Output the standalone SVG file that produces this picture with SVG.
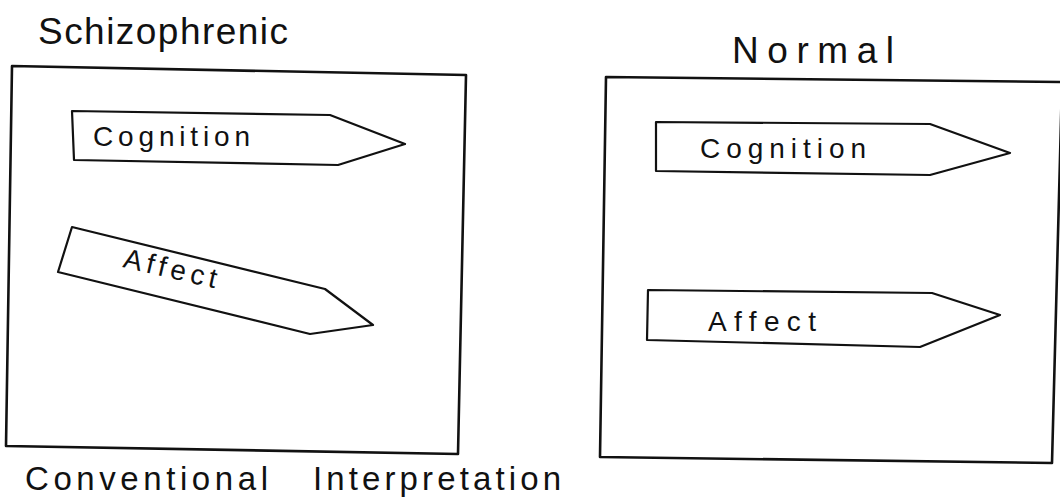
<svg xmlns="http://www.w3.org/2000/svg" width="1060" height="503" viewBox="0 0 1060 503">
<style>
.frame{fill:none;stroke:#111;stroke-width:2.6;stroke-linejoin:round}
.arrow{fill:#fff;stroke:#111;stroke-width:2.2;stroke-linejoin:round}
.t{font-family:"Liberation Sans","DejaVu Sans",sans-serif;fill:#111}
.lbl{font-size:28px}
.ttl{font-size:37px}
</style>
<rect width="1060" height="503" fill="#fff"/>
<g id="title-schizophrenic"><text class="t ttl" x="38" y="44" textLength="250">Schizophrenic</text></g>
<g id="title-normal"><text class="t ttl" x="732" y="63" textLength="162">Normal</text></g>
<g id="box-schizophrenic"><polygon class="frame" points="12,66 466,75 458,454 6,446"/></g>
<g id="box-normal"><polygon class="frame" points="606,77 1062,82 1052,463 600,457"/></g>
<g id="connectors">
<g id="s-cognition"><polygon class="arrow" points="72,111 330,115 405,144 338,165 74,160"/><text class="t lbl" x="93" y="146" textLength="157">Cognition</text></g>
<g id="s-affect"><polygon class="arrow" points="72,227 325,289 373,325 310,334 58,272"/><text class="t lbl" x="0" y="0" transform="translate(122,267) rotate(13)" textLength="95">Affect</text></g>
<g id="n-cognition"><polygon class="arrow" points="656,122 930,124 1010,153 930,175 656,171"/><text class="t lbl" x="700" y="158" textLength="166">Cognition</text></g>
<g id="n-affect"><polygon class="arrow" points="648,290 932,293 1000,315 920,347 647,340"/><text class="t lbl" x="708" y="331" textLength="108">Affect</text></g>
</g>
<g id="caption"><text class="t" font-size="33" x="25" y="490" textLength="243">Conventional</text><text class="t" font-size="33" x="313" y="490" textLength="248">Interpretation</text></g>
</svg>
